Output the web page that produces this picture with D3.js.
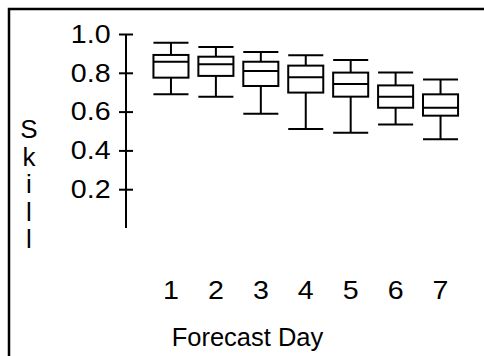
<!DOCTYPE html>
<html><head><meta charset="utf-8">
<script src="https://cdn.jsdelivr.net/npm/d3@7/dist/d3.min.js"></script>
<style>body{margin:0;background:#fff}svg{display:block}text{font-family:"Liberation Sans",Arial,sans-serif;fill:#000}</style>
</head><body><svg id="c" width="484" height="356"></svg>
<script>
const days = ["1","2","3","4","5","6","7"];
const whiskerHigh = [0.955,0.933,0.907,0.890,0.866,0.801,0.766];
const q3 = [0.892,0.883,0.857,0.837,0.801,0.735,0.689];
const median = [0.857,0.844,0.809,0.777,0.742,0.677,0.620];
const q1 = [0.775,0.784,0.732,0.698,0.677,0.620,0.579];
const whiskerLow = [0.689,0.677,0.589,0.510,0.491,0.533,0.457];
const yTicks = [0.2,0.4,0.6,0.8,1.0];
const yTitle = "Skill";
const xTitle = "Forecast Day";

const svg = d3.select("#c");
svg.append("rect").attr("x",9).attr("y",9).attr("width",600).attr("height",600)
  .attr("fill","none").attr("stroke","#000").attr("stroke-width",2.5);

const y = d3.scaleLinear().domain([0,1]).range([228,34]);
const x = d3.scaleBand().domain(days).range([148.5,463]).paddingInner(0.22).paddingOuter(0.11);

// y axis
const yAxis = d3.axisLeft(y).tickValues(yTicks).tickFormat(d3.format(".1f")).tickSize(0).tickPadding(14);
const gy = svg.append("g").attr("transform","translate(126,0)").call(yAxis);
gy.select(".domain").remove();
gy.append("line").attr("x1",0).attr("x2",0).attr("y1",y(0)).attr("y2",y(1)).attr("stroke","#000").attr("stroke-width",2);
gy.selectAll(".tick").append("line").attr("x1",-7).attr("x2",7).attr("stroke","#000").attr("stroke-width",2);
gy.selectAll(".tick text").attr("font-size",26).attr("font-family","Liberation Sans, Arial, sans-serif")
  .attr("fill","#000").attr("transform","scale(1.1,1)");

// x labels
const xAxis = d3.axisBottom(x).tickSize(0).tickPadding(0);
const gx = svg.append("g").attr("transform","translate(0,281)").call(xAxis);
gx.select(".domain").remove();
gx.selectAll(".tick text").attr("font-size",26).attr("font-family","Liberation Sans, Arial, sans-serif")
  .attr("fill","#000").attr("dy","0.71em").attr("transform","scale(1.1,1)");

// boxes
const data = days.map((d,i)=>({d,hi:whiskerHigh[i],q3:q3[i],med:median[i],q1:q1[i],lo:whiskerLow[i]}));
const bw = x.bandwidth();
const g = svg.append("g").attr("stroke","#000").attr("stroke-width",2).attr("fill","none");
data.forEach(b=>{
  const x0 = x(b.d), cx = x0+bw/2;
  g.append("line").attr("x1",cx).attr("x2",cx).attr("y1",y(b.hi)).attr("y2",y(b.q3));
  g.append("line").attr("x1",cx).attr("x2",cx).attr("y1",y(b.q1)).attr("y2",y(b.lo));
  g.append("line").attr("x1",x0).attr("x2",x0+bw).attr("y1",y(b.hi)).attr("y2",y(b.hi));
  g.append("line").attr("x1",x0).attr("x2",x0+bw).attr("y1",y(b.lo)).attr("y2",y(b.lo));
  g.append("rect").attr("x",x0).attr("y",y(b.q3)).attr("width",bw).attr("height",y(b.q1)-y(b.q3));
  g.append("line").attr("x1",x0).attr("x2",x0+bw).attr("y1",y(b.med)).attr("y2",y(b.med));
});

// y title stacked letters
svg.append("g").selectAll("text").data(yTitle.split("")).join("text")
  .attr("x",29).attr("y",(d,i)=>138+i*27.5).attr("text-anchor","middle").attr("font-size",26).text(d=>d);

svg.append("text").attr("x",247.5).attr("y",346).attr("text-anchor","middle").attr("font-size",25.5).text(xTitle);
</script></body></html>
